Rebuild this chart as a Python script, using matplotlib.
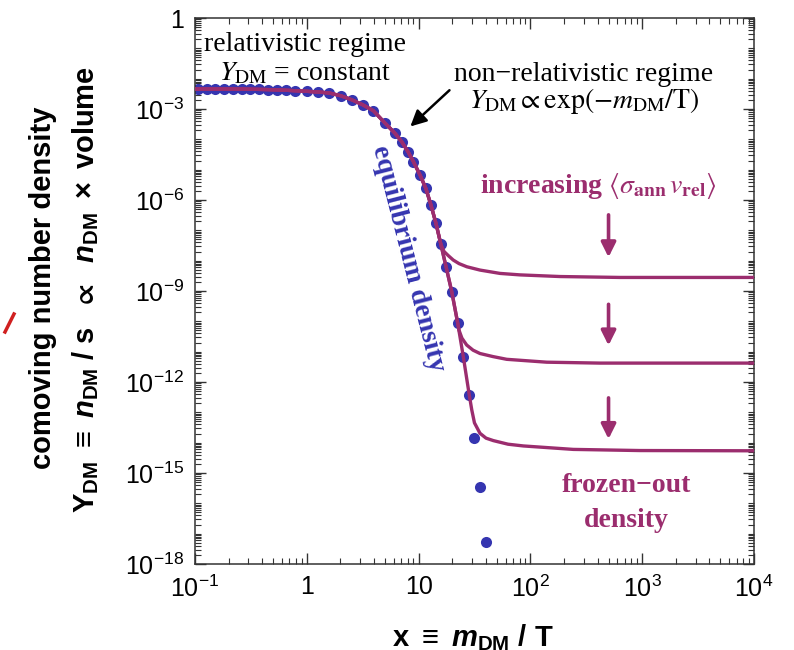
import numpy as np
import matplotlib.pyplot as plt
from matplotlib.lines import Line2D
from matplotlib.ticker import FixedLocator, LogLocator, NullFormatter, FixedFormatter

plt.rcParams['font.family'] = ['Liberation Sans', 'DejaVu Sans']
plt.rcParams['mathtext.fontset'] = 'custom'
plt.rcParams['mathtext.rm'] = 'Liberation Sans'
plt.rcParams['mathtext.it'] = 'Liberation Sans:italic'
plt.rcParams['mathtext.bf'] = 'Liberation Sans:bold'
plt.rcParams['mathtext.bfit'] = 'Liberation Sans:bold:italic'
plt.rcParams['mathtext.fallback'] = 'stixsans'

# equilibrium density (dots)
eq_x = [0.106, 0.127, 0.152, 0.182, 0.218, 0.262, 0.313, 0.376, 0.450, 0.541,
        0.647, 0.783, 1.00, 1.27, 1.59, 2.01, 2.52, 3.16, 3.94, 5.00,
        6.15, 7.06, 8.04, 8.99, 10.3, 11.6, 12.9, 14.3, 15.8, 17.6,
        19.8, 22.4, 25.1, 28.4, 31.5, 35.4, 40.1]
eq_y = [4.56e-3, 4.56e-3, 4.56e-3, 4.56e-3, 4.56e-3, 4.56e-3, 4.49e-3, 4.43e-3, 4.36e-3, 4.26e-3,
        4.16e-3, 4.01e-3, 3.83e-3, 3.63e-3, 3.37e-3, 2.74e-3, 2.02e-3, 1.38e-3, 8.79e-4, 3.45e-4,
        1.58e-4, 8.36e-5, 3.91e-5, 1.83e-5, 6.67e-6, 2.43e-6, 6.82e-7, 1.70e-7, 3.53e-8, 6.31e-9,
        9.46e-10, 8.59e-11, 6.92e-12, 3.72e-13, 1.39e-14, 3.52e-16, 5.41e-18]

# frozen-out branches (after leaving equilibrium)
up_x = [16.9, 18.5, 20.4, 23.0, 27.0, 35.4, 53.5, 80.7, 184, 632, 1e4]
up_y = [2.0e-8, 1.45e-8, 1.05e-8, 8.0e-9, 6.3e-9, 4.9e-9, 3.8e-9, 3.4e-9, 3.0e-9, 2.8e-9, 2.8e-9]
mid_x = [23.0, 24.4, 26.9, 30.7, 35.4, 46.2, 61.4, 140, 419, 1e4]
mid_y = [5.1e-11, 2.8e-11, 1.66e-11, 1.12e-11, 8.7e-12, 6.9e-12, 5.6e-12, 4.5e-12, 4.2e-12, 4.2e-12]
low_x = [29.9, 31.6, 35.4, 40.1, 46.6, 63.1, 86.5, 242, 955, 1e4]
low_y = [1.2e-13, 4.5e-14, 2.04e-14, 1.41e-14, 1.17e-14, 8.9e-15, 7.8e-15, 6.0e-15, 5.5e-15, 5.4e-15]

x_start = 0.1
arrow_x = 500
arrows_y = [(4.0e-7, 1.05e-8), (4.5e-10, 1.3e-11), (3.7e-13, 1.07e-14)]

magenta = '#9b2d6e'
blue = '#3535b0'

fig = plt.figure(figsize=(7.94, 6.5), dpi=100)
ax = fig.add_axes([0.2456, 0.1323, 0.704, 0.840])

ax.plot(eq_x, eq_y, 'o', color=blue, ms=8, mec='none', zorder=2)

for bx, by in [(low_x, low_y), (mid_x, mid_y), (up_x, up_y)]:
    n = int(np.searchsorted(eq_x, bx[0]))
    lx = [x_start] + eq_x[:n] + bx
    ly = [eq_y[0]] + eq_y[:n] + by
    ax.plot(lx, ly, color=magenta, lw=2.4, zorder=3, solid_capstyle='butt',
            solid_joinstyle='round')

ax.set_xscale('log')
ax.set_yscale('log')
ax.set_xlim(0.1, 1e4)
ax.set_ylim(1e-18, 1)

ax.xaxis.set_major_locator(FixedLocator([0.1, 1, 10, 100, 1000, 1e4]))
ax.xaxis.set_major_formatter(FixedFormatter([r'$\mathdefault{10^{-1}}$', '1', '10',
                                             r'$\mathdefault{10^{2}}$', r'$\mathdefault{10^{3}}$',
                                             r'$\mathdefault{10^{4}}$']))
ax.xaxis.set_minor_locator(LogLocator(base=10, subs=np.arange(2, 10), numticks=100))
ax.xaxis.set_minor_formatter(NullFormatter())

yt = [10.0 ** -k for k in range(0, 19, 3)]
ax.yaxis.set_major_locator(FixedLocator(yt))
ax.yaxis.set_major_formatter(FixedFormatter(['1'] + [r'$\mathdefault{10^{-%d}}$' % k for k in range(3, 19, 3)]))
ax.yaxis.set_minor_locator(LogLocator(base=10, subs=np.arange(1, 10), numticks=100))
ax.yaxis.set_minor_formatter(NullFormatter())

ax.tick_params(which='both', direction='in', top=True, right=True, color='#333333')
ax.tick_params(which='major', length=8, width=1, labelsize=18, pad=8)
ax.tick_params(which='minor', length=4, width=0.8)
for s in ax.spines.values():
    s.set_color('#333333')
    s.set_linewidth(1.1)

serif = ['Liberation Serif', 'DejaVu Serif']
ax.text(0.96, 0.139, 'relativistic regime', fontsize=20, family=serif,
        ha='center', va='center')
ax.text(0.96, 0.0143, r'$Y_{\rm DM}$ = constant', fontsize=20, family=serif,
        math_fontfamily='stix', ha='center', va='center')
ax.text(301, 0.0135, 'non\u2212relativistic regime', fontsize=20, family=serif,
        ha='center', va='center')
ax.text(301, 1.8e-3, r'$Y_{\rm DM} \propto {\rm exp}(-m_{\rm DM}/{\rm T})$', fontsize=20,
        family=serif, math_fontfamily='stix', ha='center', va='center')
ax.annotate('', xy=(8.09, 2.3e-4), xytext=(19.7, 4.8e-3),
            arrowprops=dict(arrowstyle='-|>', color='black', lw=1.8, mutation_scale=24))

ax.text(406, 2.9e-6, r'increasing $\langle\sigma_{\bf ann}\,v_{\bf rel}\rangle$', fontsize=20,
        family=serif, weight='bold', math_fontfamily='stix', color=magenta,
        ha='center', va='center')
for y0, y1 in arrows_y:
    ax.annotate('', xy=(arrow_x, y1), xytext=(arrow_x, y0),
                arrowprops=dict(arrowstyle='-|>', color=magenta, lw=2.6, mutation_scale=22))
ax.text(716, 4e-16, 'frozen\u2212out', fontsize=20, family=serif, weight='bold',
        color=magenta, ha='center', va='center')
ax.text(716, 2.8e-17, 'density', fontsize=20, family=serif, weight='bold',
        color=magenta, ha='center', va='center')
ax.text(8.0, 1.22e-8, 'equilibrium density', fontsize=20, family=serif, weight='bold',
        color=blue, rotation=-75.6, rotation_mode='anchor', ha='center', va='center')

fig.text(0.054, 0.558, 'comoving number density', fontsize=21, weight='bold',
         rotation=90, ha='center', va='center')
fig.text(0.108, 0.554,
         r'$\mathbf{Y}_{\mathbf{DM}}\ \mathbf{\equiv}\ \mathbfit{n}_{\mathbf{DM}}\mathbf{\ /\ s\ \ }\mathbf{\propto}\mathbf{\ \ }'
         r'\mathbfit{n}_{\mathbf{DM}}\mathbf{\ \times\ volume}$',
         fontsize=21, weight='bold', rotation=90, ha='center', va='center')
fig.text(0.596, 0.006, r'$\mathbf{x\ \equiv\ }\mathbfit{m}_{\mathbf{DM}}\mathbf{\ /\ T}$',
         fontsize=21, weight='bold', ha='center', va='baseline')

fig.add_artist(Line2D([5 / 794, 14 / 794], [1 - 332 / 650, 1 - 314 / 650],
                      color='#d02020', lw=2.5))

fig.savefig('out.png', dpi=100)
